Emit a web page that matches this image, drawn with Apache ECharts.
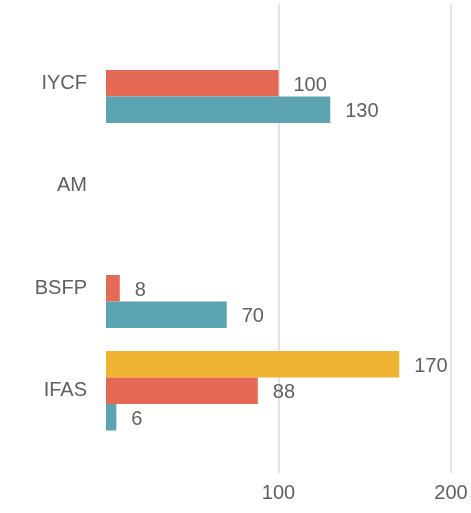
<!DOCTYPE html>
<html>
<head>
<meta charset="utf-8">
<script src="https://cdn.jsdelivr.net/npm/echarts@6/dist/echarts.min.js"></script>
<style>
  html, body { margin: 0; padding: 0; background: #fff; }
  #chart { width: 471px; height: 513px; }
</style>
</head>
<body>
<div id="chart"></div>
<script>
// Categories (top to bottom)
const categories = ['IYCF', 'AM', 'BSFP', 'IFAS'];
// Series values, one per category
const yellowValues = [null, null, null, 170];
const redValues = [100, null, 8, 88];
const tealValues = [130, null, 70, 6];
// Value axis ticks
const valueTicks = [0, 100, 200];

const textColor = '#606060';
const font = 'Liberation Sans, Arial, sans-serif';

const chart = echarts.init(document.getElementById('chart'));

function barSeries(name, data, color) {
  return {
    name: name,
    type: 'bar',
    xAxisIndex: 0,
    yAxisIndex: 0,
    data: data,
    barWidth: 26.5,
    barGap: '0%',
    itemStyle: { color: color },
    label: {
      show: true,
      position: 'right',
      distance: 15,
      offset: [0, 2],
      fontSize: 20,
      fontFamily: font,
      color: textColor
    }
  };
}

const option = {
  animation: false,
  backgroundColor: '#ffffff',
  grid: [{
    // bars
    left: 106,
    right: 20,
    top: 32,
    bottom: 71
  }, {
    // grid lines and value labels
    left: 106,
    right: 20,
    top: 4,
    bottom: 40
  }],
  xAxis: [{
    gridIndex: 0,
    type: 'value',
    min: valueTicks[0],
    max: valueTicks[valueTicks.length - 1],
    interval: 100,
    show: false
  }, {
    gridIndex: 1,
    type: 'value',
    min: valueTicks[0],
    max: valueTicks[valueTicks.length - 1],
    interval: 100,
    axisLine: { show: false },
    axisTick: { show: false },
    axisLabel: {
      fontSize: 20,
      fontFamily: font,
      color: textColor,
      margin: 10,
      formatter: (v) => (v === 0 ? '' : String(v))
    },
    splitLine: {
      show: true,
      showMinLine: false,
      lineStyle: { color: '#e3e3e3', width: 2 }
    }
  }],
  yAxis: [{
    gridIndex: 0,
    type: 'category',
    inverse: true,
    data: categories,
    axisLine: { show: false },
    axisTick: { show: false },
    axisLabel: {
      fontSize: 20,
      fontFamily: font,
      color: textColor,
      margin: 19,
      padding: [4, 0, 0, 0]
    }
  }, {
    gridIndex: 1,
    type: 'value',
    min: 0,
    max: 1,
    show: false
  }],
  series: [
    barSeries('Yellow', yellowValues, '#F0B434'),
    barSeries('Red', redValues, '#E46A55'),
    barSeries('Teal', tealValues, '#5DA4B2')
  ]
};

chart.setOption(option);
</script>
</body>
</html>
